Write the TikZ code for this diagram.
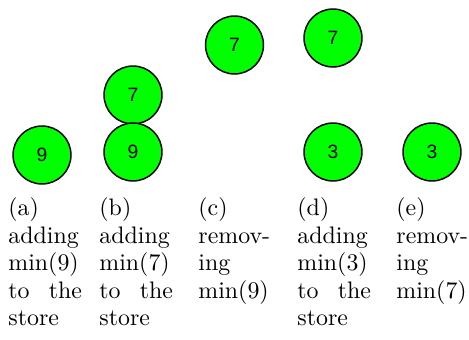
\documentclass[tikz,border=0pt]{standalone}
\usepackage{fontspec}
\newfontfamily\digitfont{Liberation Sans}
\begin{document}
\begin{tikzpicture}[x=0.44pt,y=-0.44pt,
  ball/.style={circle,draw=black,line width=0.65pt,fill={rgb,255:red,0;green,255;blue,0},
    minimum size=25.5pt,inner sep=0pt,font=\digitfont\fontsize{8.5}{10}\selectfont},
  caption/.style={anchor=base west,inner sep=0pt,text width=32.4pt,align=justify,
    font=\fontsize{10.5}{12.1}\selectfont}]
\useasboundingbox (0,0) rectangle (469,340);
% store states after each operation
\node[ball] (a9) at (42,155) {9};
\node[ball] (b7) at (133,95) {7};
\node[ball] (b9) at (133,152) {9};
\node[ball] (c7) at (234.5,45) {7};
\node[ball] (d7) at (333,38) {7};
\node[ball] (d3) at (333,152) {3};
\node[ball] (e3) at (432,152) {3};
% sub-captions
\node[caption] (ca) at (8,216) {(a) adding min(9) to the store};
\node[caption] (cb) at (99,216) {(b) adding min(7) to the store};
\node[caption] (cc) at (198,216) {(c) remov\-ing min(9)};
\node[caption] (cd) at (297,216) {(d) adding min(3) to the store};
\node[caption] (ce) at (396,216) {(e) remov\-ing min(7)};
\end{tikzpicture}
\end{document}
